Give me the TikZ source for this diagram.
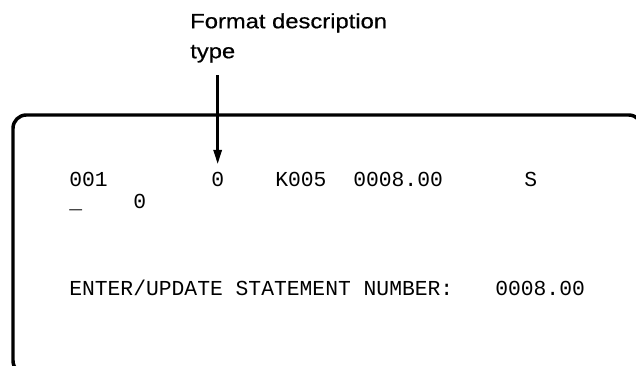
\documentclass[tikz,border=0pt]{standalone}
\usepackage{fontspec}
\usepackage{tikz}
\usetikzlibrary{arrows.meta}
\newfontfamily\screenfont{Liberation Mono}
\newfontfamily\labelfont[FakeStretch=1.15, FakeBold=0.6]{Liberation Sans}

\begin{document}
\begin{tikzpicture}[x=0.75pt, y=-0.75pt,
		screen_style/.style={inner sep=0pt, anchor=base west, font=\screenfont\fontsize{16pt}{19pt}\selectfont},
		label_style/.style={inner sep=0pt, anchor=north west, align=left, font=\labelfont\fontsize{15.5pt}{22.5pt}\selectfont},
		frame_style/.style={draw=black, line width=2.6pt, rounded corners=10pt},
		arrow_style/.style={draw=black, line width=2.2pt, shorten >=6pt, -{Triangle[length=11pt, width=6pt]}}]
		\useasboundingbox (0,0) rectangle (636,366);
		\clip (0,0) rectangle (636,366);
		\draw[frame_style] (13,115) rectangle (642,374);
		\node[label_style] (caption) at (190,13) {Format description\\type};
		\node[screen_style] (seq) at (69,187) {001};
		\node[screen_style] (fmt) at (211,187) {0};
		\node[screen_style] (key) at (275,187) {K005};
		\node[screen_style] (stmt) at (353,187) {0008.00};
		\node[screen_style] (flag) at (524,187) {S};
		\node[screen_style] (cursor) at (69,209) {\_};
		\node[screen_style] (zero) at (133,209) {0};
		\node[screen_style] (prompt) at (69,296) {ENTER/UPDATE STATEMENT NUMBER:};
		\node[screen_style] (value) at (495,296) {0008.00};
		\path (fmt.north) ++(0,-97) coordinate (arrow_top);
		\draw[arrow_style] (arrow_top) -- (fmt.north);
		\end{tikzpicture}
\end{document}
